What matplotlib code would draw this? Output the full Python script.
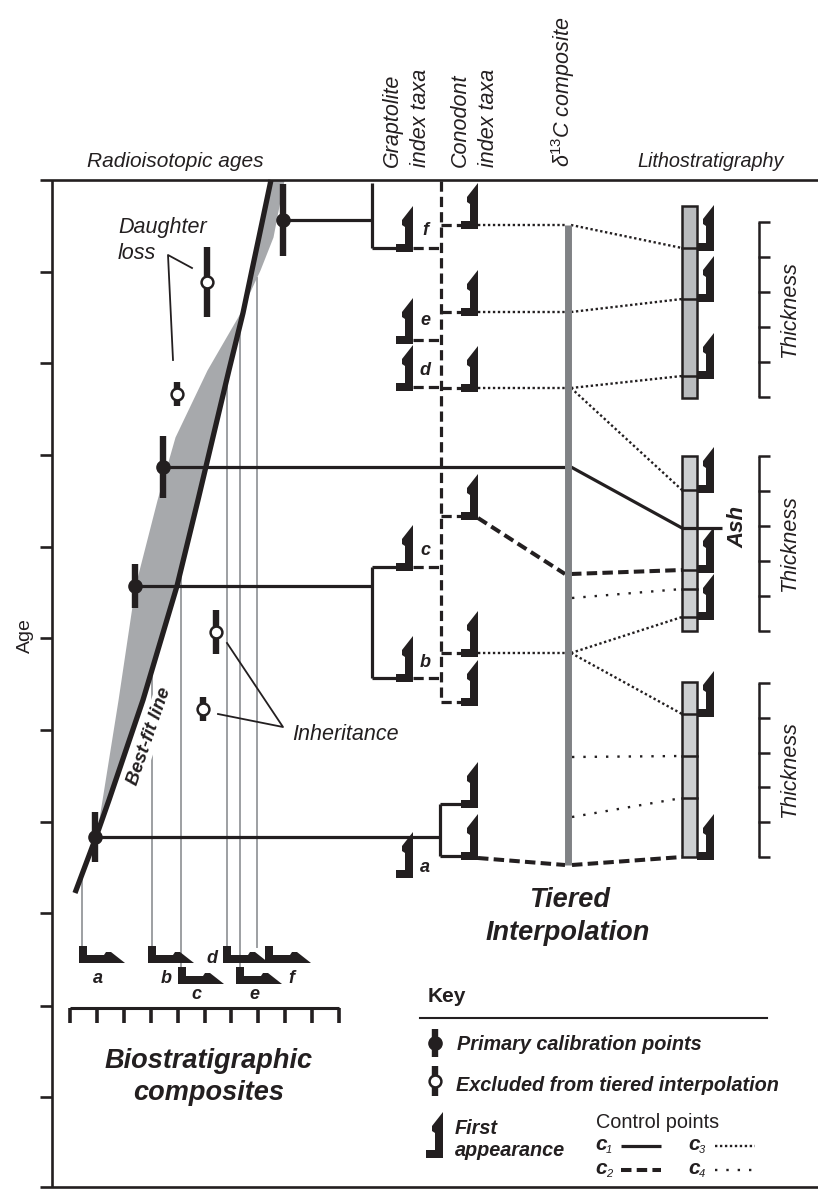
import numpy as np
import matplotlib
matplotlib.use("Agg")
import matplotlib.pyplot as plt
from matplotlib.patches import Polygon, Rectangle

plt.rcParams['font.family'] = ['Liberation Sans', 'DejaVu Sans']
plt.rcParams['mathtext.fontset'] = 'custom'
plt.rcParams['mathtext.rm'] = 'Liberation Sans'
plt.rcParams['mathtext.it'] = 'Liberation Sans:italic'
plt.rcParams['mathtext.bf'] = 'Liberation Sans:bold'

# ---------------- diagram data (canvas units, y grows downward) ----------------
age_ticks = [272, 363, 455, 547, 638, 730, 822, 913, 1006, 1097]

# best-fit age model and its uncertainty envelope
fit_y = [180, 237, 270, 313, 370, 437, 500, 586, 700, 800, 837, 893]
fit_x = [271, 259, 252, 243, 229, 213, 198, 177, 143, 109, 96, 75]
env_y = [180, 237, 270, 313, 370, 437, 500, 586, 700, 800, 837]
env_x = [284, 273, 260, 240, 207, 175, 157, 135, 118, 102, 96]

# radioisotopic ages: primary calibration points and excluded ages
primary_x = [95, 135, 163, 283]
primary_y = [837, 586, 467, 220]
primary_err = [25, 22, 31, 36]
excluded_x = [207, 177, 216, 203]
excluded_y = [282, 394, 632, 709]
excluded_err = [35, 12, 22, 12]

# biostratigraphic composite first appearances (a-f)
bio_labels = ['a', 'b', 'c', 'd', 'e', 'f']
bio_x = [79, 148, 178, 223, 236, 265]
bio_y = [963, 963, 984, 963, 984, 963]
proj_x = [82, 152, 181, 227, 240, 257]
proj_end = [947, 947, 968, 947, 968, 947]
bio_lab_xy = [(98, 983), (166, 983), (196, 999), (212, 963), (254, 999), (291, 983)]

# graptolite index taxa
grap_labels = ['f', 'e', 'd', 'c', 'b', 'a']
grap_bottom = [252, 344, 391, 571, 682, 878]
grap_linked = [True, True, True, True, True, False]
grap_lab_y = [235, 325, 375, 555, 667, 872]

# conodont index taxa
cono_bottom = [229, 316, 392, 520, 657, 706, 808, 860]
cono_dashed = [True, True, True, True, True, True, False, False]

# lithostratigraphic sections
col_top = [206, 456, 682]
col_bottom = [398, 631, 857]
col_divs = [[248, 299, 376], [490, 528, 570, 589, 617], [714, 756, 798]]
col_fill = ['#b9bbbe', '#cdcfd1', '#cdcfd1']
litho_fa = [[248, 299, 376], [490, 570, 617], [714, 857]]
thick_top = [222, 456, 683]
thick_bottom = [397, 631, 857]

# tie lines: (x0, y0, x1, y1, control class)
ties = [
    (478, 225, 567, 225, 'c3'), (478, 312, 567, 312, 'c3'),
    (478, 388, 567, 388, 'c3'), (478, 653, 567, 653, 'c3'),
    (478, 518, 565, 574, 'c2'), (478, 858, 565, 865, 'c2'),
    (571, 225, 682, 248, 'c3'), (571, 312, 682, 299, 'c3'),
    (571, 388, 682, 376, 'c3'), (571, 388, 682, 490, 'c3'),
    (571, 467, 682, 528, 'c1'), (571, 574, 682, 570, 'c2'),
    (572, 598, 682, 589, 'c4'), (571, 653, 682, 617, 'c3'),
    (571, 653, 682, 714, 'c3'), (572, 757, 682, 756, 'c4'),
    (572, 817, 682, 798, 'c4'), (572, 865, 682, 857, 'c2'),
]

# ---------------- styles ----------------
INK = '#231f20'
STYLE = {
    'c1': dict(lw=2.3, ls='-'),
    'c2': dict(lw=2.9, ls=(0, (2.6, 1.3))),
    'c3': dict(lw=1.7, ls=(0, (1.0, 1.1))),
    'c4': dict(lw=1.7, ls=(0, (1.0, 3.8))),
}
FA_SHAPE = np.array([(0, 0), (0, 46), (-11, 32), (-11, 27), (-8, 25),
                     (-8, 8), (-17, 8), (-17, 0)], dtype=float)

fig = plt.figure(figsize=(8.18, 11.89), dpi=100)
ax = fig.add_axes([0, 0, 1, 1])
ax.set_xlim(0, 818)
ax.set_ylim(1189, 0)
ax.axis('off')


def first_appearance(x, y, horizontal=False, scale=1.0):
    pts = FA_SHAPE * scale
    if horizontal:
        xy = np.column_stack([x + pts[:, 1], y + pts[:, 0]])
    else:
        xy = np.column_stack([x + pts[:, 0], y - pts[:, 1]])
    ax.add_patch(Polygon(xy, closed=True, fc=INK, ec='none', zorder=6))


def line(x0, y0, x1, y1, kind='c1', color=INK, z=4, lw=None):
    st = STYLE[kind]
    ax.plot([x0, x1], [y0, y1], color=color, lw=lw or st['lw'], ls=st['ls'],
            solid_capstyle='butt', dash_capstyle='butt', zorder=z)


def age_point(x, y, err, filled=True, z=8):
    ax.plot([x, x], [y - err, y + err], color=INK, lw=4.6,
            solid_capstyle='butt', zorder=z)
    if filled:
        ax.plot(x, y, 'o', ms=9.5, mfc=INK, mec=INK, zorder=z + 1)
    else:
        ax.plot(x, y, 'o', ms=8.5, mfc='white', mec=INK, mew=1.8, zorder=z + 1)


# ---------------- frame ----------------
ax.plot([40, 818], [180, 180], color=INK, lw=1.9, solid_capstyle='butt')
ax.plot([40, 818], [1187, 1187], color=INK, lw=1.9, solid_capstyle='butt')
ax.plot([52, 52], [180, 1187], color=INK, lw=1.9, solid_capstyle='butt')
for t in age_ticks:
    ax.plot([40, 52], [t, t], color=INK, lw=1.9, solid_capstyle='butt')
ax.text(25, 636, 'Age', rotation=90, ha='center', va='center', fontsize=14, color=INK)

# ---------------- column headings ----------------
ax.text(175, 167, 'Radioisotopic ages', ha='center', va='baseline',
        fontsize=15, style='italic', color=INK)
ax.text(637, 167, 'Lithostratigraphy', ha='left', va='baseline',
        fontsize=14.3, style='italic', color=INK)
for hx, txt in [(392, 'Graptolite'), (420, 'index taxa'),
                (460, 'Conodont'), (488, 'index taxa')]:
    ax.text(hx, 167, txt, rotation=90, ha='center', va='bottom',
            fontsize=15.5, style='italic', color=INK)
ax.text(563, 167, r'δ$^{13}$C composite', rotation=90, ha='center', va='bottom',
        fontsize=15.5, style='italic', color=INK)

# ---------------- age model ----------------
ys = np.array(fit_y, dtype=float)
fx = np.array(fit_x, dtype=float)
ex = np.interp(np.array(env_y, float), env_y, env_x)
n = len(env_y)
ax.fill_betweenx(ys[:n], fx[:n], ex, color='#a7a9ac', lw=0, zorder=1)
ax.plot(fx, ys, color=INK, lw=3.8, solid_capstyle='butt', zorder=7)

# right edge of the band, used to start the projection lines
right_x = fx.copy()
right_x[:n] = np.maximum(fx[:n], ex)
for px, pe in zip(proj_x, proj_end):
    top = np.interp(px, right_x[::-1], ys[::-1])
    ax.plot([px, px], [top, pe], color='#9d9fa2', lw=1.4, zorder=2)

ax.text(149, 736, 'Best-fit line', rotation=71, ha='center', va='center',
        fontsize=13.5, style='italic', weight='bold', color=INK, zorder=3,
        bbox=dict(fc='white', ec='none', pad=1.0))

for x, y, e in zip(primary_x, primary_y, primary_err):
    age_point(x, y, e, filled=True)
for x, y, e in zip(excluded_x, excluded_y, excluded_err):
    age_point(x, y, e, filled=False)

# annotations
ax.text(118, 233, 'Daughter', ha='left', va='baseline', fontsize=15.5,
        style='italic', color=INK)
ax.text(118, 259, 'loss', ha='left', va='baseline', fontsize=15.5,
        style='italic', color=INK)
ax.plot([192, 168, 173], [268, 255, 360], color=INK, lw=1.3)
ax.text(292, 740, 'Inheritance', ha='left', va='baseline', fontsize=15.5,
        style='italic', color=INK)
ax.plot([227, 283, 218], [643, 727, 714], color=INK, lw=1.3)

# ---------------- biostratigraphic composite ----------------
for lab, bx, by, (lx, ly) in zip(bio_labels, bio_x, bio_y, bio_lab_xy):
    first_appearance(bx, by, horizontal=True)
    ax.text(lx, ly, lab, ha='center', va='baseline', fontsize=13,
            style='italic', weight='bold', color=INK)
ax.plot([70, 339], [1008, 1008], color=INK, lw=2.2, solid_capstyle='butt')
for tx in np.linspace(70, 339, 11):
    ax.plot([tx, tx], [1008, 1023], color=INK, lw=2.6, solid_capstyle='butt')
ax.text(209, 1068, 'Biostratigraphic', ha='center', va='baseline', fontsize=19.5,
        style='italic', weight='bold', color=INK)
ax.text(209, 1100, 'composites', ha='center', va='baseline', fontsize=19.5,
        style='italic', weight='bold', color=INK)

# ---------------- calibration tie lines ----------------
line(primary_x[3], primary_y[3], 372, primary_y[3])
line(372, 183, 372, grap_bottom[0] - 4)
line(372, grap_bottom[0] - 4, 396, grap_bottom[0] - 4)
line(primary_x[2], primary_y[2], 567, primary_y[2], z=5)
line(primary_x[1], primary_y[1], 372, primary_y[1])
line(372, grap_bottom[3] - 4, 372, grap_bottom[4] - 4)
line(372, grap_bottom[3] - 4, 396, grap_bottom[3] - 4)
line(372, grap_bottom[4] - 4, 396, grap_bottom[4] - 4)
line(primary_x[0], primary_y[0], 440, primary_y[0])
line(440, cono_bottom[6] - 4, 440, cono_bottom[7] - 4)
line(440, cono_bottom[6] - 4, 461, cono_bottom[6] - 4)
line(440, cono_bottom[7] - 4, 461, cono_bottom[7] - 4)

# ---------------- graptolite and conodont columns ----------------
GDASH = dict(lw=2.3, ls=(0, (3.2, 1.6)))
ax.plot([441, 441], [181, cono_bottom[5] - 4], color=INK, solid_capstyle='butt',
        dash_capstyle='butt', zorder=3, **GDASH)
for lab, gb, linked, ly in zip(grap_labels, grap_bottom, grap_linked, grap_lab_y):
    first_appearance(413, gb)
    ax.text(425, ly, lab, ha='center', va='baseline', fontsize=13,
            style='italic', weight='bold', color=INK)
    if linked:
        ax.plot([413, 441], [gb - 4, gb - 4], color=INK, dash_capstyle='butt',
                zorder=3, **GDASH)
for cb, dashed in zip(cono_bottom, cono_dashed):
    first_appearance(478, cb)
    if dashed:
        ax.plot([441, 461], [cb - 4, cb - 4], color=INK, dash_capstyle='butt',
                zorder=3, **GDASH)

# ---------------- carbon isotope composite ----------------
ax.plot([568, 568], [225, 865], color='#808285', lw=5.0, solid_capstyle='butt', zorder=5)

for x0, y0, x1, y1, kind in ties:
    line(x0, y0, x1, y1, kind)
line(682, 528, 722, 528, 'c1', z=7)
ax.text(738, 527, 'Ash', rotation=90, ha='center', va='center', fontsize=16,
        style='italic', weight='bold', color=INK)

# ---------------- lithostratigraphy ----------------
for top, bot, divs, fc, fas in zip(col_top, col_bottom, col_divs, col_fill, litho_fa):
    ax.add_patch(Rectangle((682, top), 15, bot - top, fc=fc, ec=INK, lw=1.8, zorder=6))
    for d in divs:
        ax.plot([682, 697], [d, d], color=INK, lw=1.8, zorder=6)
    for fb in fas:
        first_appearance(714, fb + 3)

for top, bot in zip(thick_top, thick_bottom):
    ax.plot([759, 759], [top, bot], color=INK, lw=1.8, solid_capstyle='butt')
    for t in np.linspace(top, bot, 6):
        ax.plot([758, 770], [t, t], color=INK, lw=1.8, solid_capstyle='butt')
    ax.text(790, (top + bot) / 2, 'Thickness', rotation=90, ha='center', va='center',
            fontsize=15.5, style='italic', color=INK)

ax.text(570, 907, 'Tiered', ha='center', va='baseline', fontsize=19.5,
        style='italic', weight='bold', color=INK)
ax.text(568, 940, 'Interpolation', ha='center', va='baseline', fontsize=19.5,
        style='italic', weight='bold', color=INK)

# ---------------- key ----------------
ax.text(428, 1002, 'Key', ha='left', va='baseline', fontsize=15, weight='bold', color=INK)
ax.plot([420, 767], [1018, 1018], color=INK, lw=1.5)
age_point(435, 1043, 14, filled=True)
age_point(435, 1081, 15, filled=False)
first_appearance(443, 1158)
ax.text(457, 1050, 'Primary calibration points', ha='left', va='baseline',
        fontsize=14.3, style='italic', weight='bold', color=INK)
ax.text(456, 1091, 'Excluded from tiered interpolation', ha='left', va='baseline',
        fontsize=14.3, style='italic', weight='bold', color=INK)
ax.text(455, 1134, 'First', ha='left', va='baseline', fontsize=14.3,
        style='italic', weight='bold', color=INK)
ax.text(455, 1156, 'appearance', ha='left', va='baseline', fontsize=14.3,
        style='italic', weight='bold', color=INK)
ax.text(596, 1128, 'Control points', ha='left', va='baseline', fontsize=14.3, color=INK)
for kind, kx, ky in [('c1', 595, 1150), ('c2', 595, 1174),
                     ('c3', 688, 1150), ('c4', 688, 1174)]:
    ax.text(kx, ky, 'c', ha='left', va='baseline', fontsize=15,
            style='italic', weight='bold', color=INK)
    ax.text(kx + 11, ky + 3, kind[1], ha='left', va='baseline', fontsize=8,
            style='italic', color=INK)
    lx0 = kx + 26 if kind in ('c1', 'c2') else kx + 27
    line(lx0, ky - 4, lx0 + 40, ky - 4, kind)

fig.savefig('out.png', dpi=100)
